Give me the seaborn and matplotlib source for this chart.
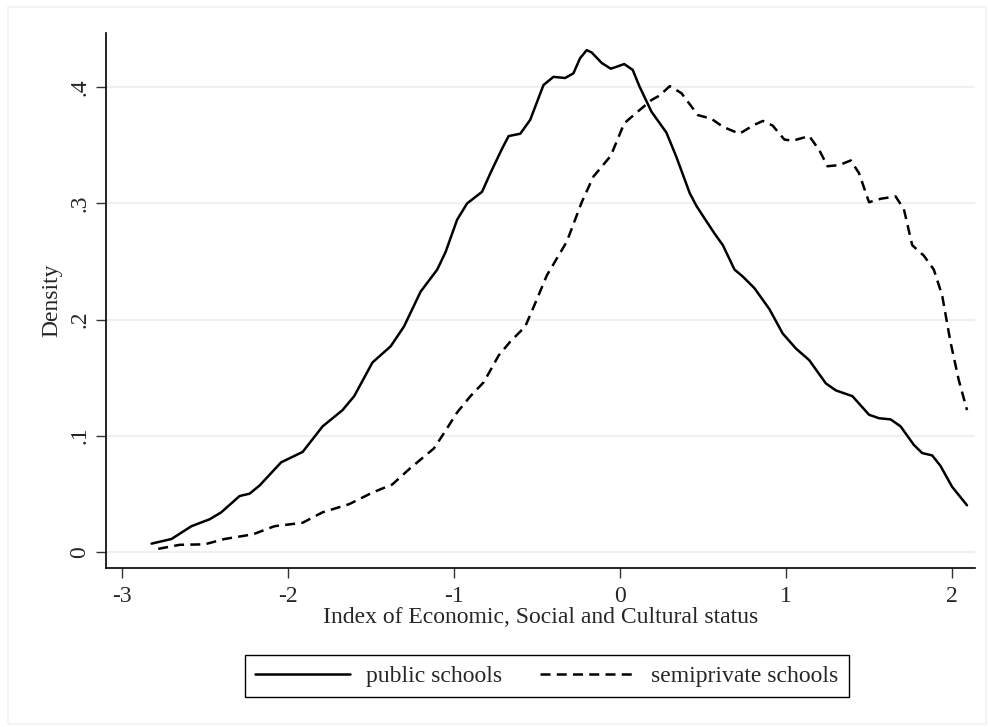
import numpy as np
import pandas as pd
import seaborn as sns
import matplotlib.pyplot as plt
from matplotlib.patches import Rectangle

# density curves (ESCS index vs density)
public_x = [-2.82, -2.70, -2.58, -2.47, -2.40, -2.29, -2.23, -2.17, -2.04, -1.91,
            -1.79, -1.67, -1.60, -1.49, -1.38, -1.30, -1.20, -1.10, -1.05, -0.98,
            -0.92, -0.83, -0.78, -0.71, -0.67, -0.60, -0.54, -0.46, -0.40, -0.33,
            -0.28, -0.24, -0.20, -0.17, -0.11, -0.055, -0.014, 0.026, 0.077, 0.117,
            0.19, 0.28, 0.34, 0.42, 0.46, 0.51, 0.57, 0.62, 0.69, 0.74,
            0.81, 0.90, 0.98, 1.06, 1.14, 1.24, 1.30, 1.40, 1.50, 1.56,
            1.63, 1.69, 1.77, 1.82, 1.88, 1.93, 2.00, 2.09]
public_y = [0.007, 0.011, 0.022, 0.028, 0.034, 0.048, 0.050, 0.057, 0.077, 0.086,
            0.108, 0.122, 0.134, 0.163, 0.177, 0.194, 0.224, 0.243, 0.258, 0.286,
            0.300, 0.310, 0.326, 0.347, 0.358, 0.360, 0.372, 0.402, 0.409, 0.408,
            0.412, 0.425, 0.432, 0.430, 0.421, 0.416, 0.418, 0.420, 0.415, 0.401,
            0.379, 0.361, 0.340, 0.309, 0.298, 0.287, 0.274, 0.264, 0.243, 0.237,
            0.227, 0.209, 0.188, 0.175, 0.165, 0.145, 0.139, 0.134, 0.118, 0.115,
            0.114, 0.108, 0.092, 0.085, 0.083, 0.074, 0.056, 0.040]

semi_x = [-2.78, -2.65, -2.50, -2.38, -2.21, -2.08, -1.91, -1.79, -1.63, -1.49,
          -1.37, -1.27, -1.12, -1.06, -0.98, -0.90, -0.82, -0.73, -0.66, -0.57,
          -0.51, -0.44, -0.32, -0.23, -0.16, -0.055, 0.026, 0.107, 0.19, 0.24,
          0.30, 0.37, 0.47, 0.55, 0.62, 0.72, 0.80, 0.86, 0.92, 0.99,
          1.04, 1.14, 1.20, 1.25, 1.32, 1.39, 1.44, 1.50, 1.57, 1.66,
          1.71, 1.76, 1.83, 1.89, 1.94, 1.99, 2.04, 2.09]
semi_y = [0.0025, 0.006, 0.0064, 0.011, 0.015, 0.022, 0.025, 0.034, 0.041, 0.051,
          0.058, 0.071, 0.089, 0.102, 0.120, 0.134, 0.146, 0.169, 0.181, 0.194,
          0.214, 0.238, 0.267, 0.301, 0.323, 0.341, 0.369, 0.379, 0.389, 0.393,
          0.401, 0.395, 0.376, 0.373, 0.366, 0.360, 0.367, 0.371, 0.367, 0.355,
          0.354, 0.358, 0.346, 0.332, 0.333, 0.337, 0.326, 0.301, 0.304, 0.306,
          0.295, 0.264, 0.255, 0.243, 0.221, 0.181, 0.148, 0.122]

groups = ["public schools", "semiprivate schools"]
x_ticks = [-3, -2, -1, 0, 1, 2]
y_ticks = [0, 0.1, 0.2, 0.3, 0.4]
y_labels = ["0", ".1", ".2", ".3", ".4"]

df = pd.concat([
    pd.DataFrame({"escs": public_x, "density": public_y, "group": groups[0]}),
    pd.DataFrame({"escs": semi_x, "density": semi_y, "group": groups[1]}),
])

sns.set_style("white")
plt.rcParams["font.family"] = ["Liberation Serif", "DejaVu Serif"]

fig = plt.figure(figsize=(9.88, 7.27), dpi=100)
ax = fig.add_axes([0.107, 0.219, 0.88, 0.736])

# faint outer frame like the Stata graph region
fig.patches.append(Rectangle((0.008, 0.004), 0.99, 0.986, transform=fig.transFigure,
                             fill=False, edgecolor="#eef3f4", lw=1.2))

for yv in y_ticks:
    ax.axhline(yv, color="#eaf2f3", lw=1.6, zorder=0)

sns.lineplot(data=df, x="escs", y="density", style="group", ax=ax,
             color="black", linewidth=1.8, sort=False,
             dashes={groups[0]: "", groups[1]: (4, 2.5)}, legend=False)

ax.set_xlim(-3.096, 2.139)
ax.set_ylim(-0.0138, 0.447)
ax.set_xticks(x_ticks)
ax.set_xticklabels([str(v) for v in x_ticks])
ax.set_yticks(y_ticks)
ax.set_yticklabels(y_labels, rotation=90, va="center")
ax.tick_params(axis="both", direction="out", length=7, width=1, color="#333333",
               labelsize=17, left=True, bottom=True)
ax.tick_params(axis="x", pad=6)
ax.tick_params(axis="y", pad=4)
ax.set_xlabel("Index of Economic, Social and Cultural status", fontsize=17, labelpad=0)
ax.set_ylabel("Density", fontsize=17, labelpad=5)

for side in ["top", "right"]:
    ax.spines[side].set_visible(False)
for side in ["left", "bottom"]:
    ax.spines[side].set_color("black")
    ax.spines[side].set_linewidth(1.2)

handles = [plt.Line2D([], [], color="black", lw=1.8),
           plt.Line2D([], [], color="black", lw=1.8, dashes=(4, 2.5))]
leg = fig.legend(handles, groups, loc="center", bbox_to_anchor=(547 / 988, 1 - 676 / 727),
                 ncol=2, frameon=True, fancybox=False, edgecolor="black", framealpha=1,
                 fontsize=17, handlelength=4.0, columnspacing=1.6, handletextpad=0.7,
                 borderpad=0.45, borderaxespad=0)
leg.get_frame().set_linewidth(1.0)

fig.savefig("out.png", dpi=100)
